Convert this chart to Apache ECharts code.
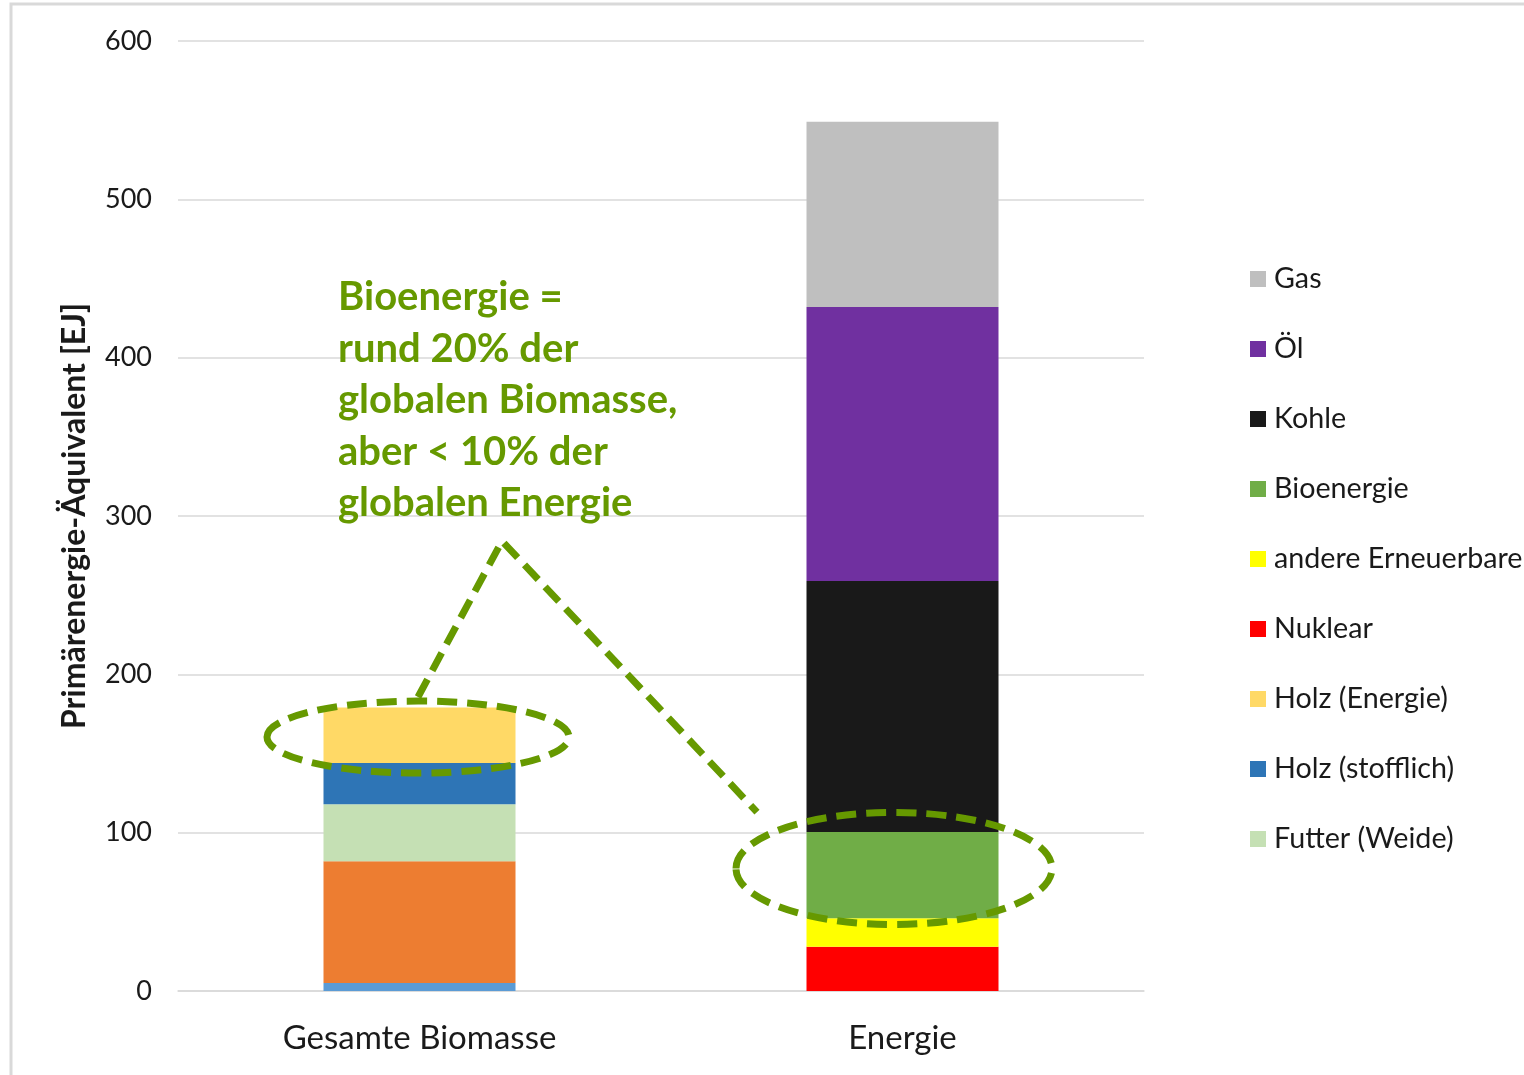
<!DOCTYPE html>
<html>
<head>
<meta charset="utf-8">
<script src="https://cdn.jsdelivr.net/npm/echarts@6/dist/echarts.min.js"></script>
<style>
html,body{margin:0;padding:0;background:#fff;}
#chart{width:1524px;height:1075px;}
</style>
</head>
<body>
<div id="chart"></div>
<script>
// ---- data ----
const categories = ['Gesamte Biomasse', 'Energie'];
const yTicks = [0, 100, 200, 300, 400, 500, 600];

// Biomass stack (bottom -> top)
const sonstige       = [5, null];
const ackerbau       = [77, null];
const futterWeide    = [36, null];
const holzStofflich  = [26, null];
const holzEnergie    = [35, null];
// Energy stack (bottom -> top)
const nuklear        = [null, 28];
const andereEE       = [null, 18];
const bioenergie     = [null, 54.5];
const kohle          = [null, 158.5];
const oel            = [null, 173];
const gas            = [null, 117];

const legendOrder = ['Gas', 'Öl', 'Kohle', 'Bioenergie', 'andere Erneuerbare', 'Nuklear', 'Holz (Energie)', 'Holz (stofflich)', 'Futter (Weide)'];
const annotationLines = ['Bioenergie =', 'rund 20% der', 'globalen Biomasse,', 'aber < 10% der', 'globalen Energie'];

const FONT = 'Lato, "Open Sans", sans-serif';
const GREEN = '#669900';

const chart = echarts.init(document.getElementById('chart'), null, {renderer: 'canvas'});

function s(name, data, color) {
  return {
    name: name, type: 'bar', stack: 'total', data: data.map(v => v == null ? '-' : v),
    barWidth: 192, itemStyle: {color: color}, emphasis: {disabled: true}
  };
}

const series = [
  s('Sonstige', sonstige, '#5b9bd5'),
  s('Ackerbau', ackerbau, '#ed7d31'),
  s('Futter (Weide)', futterWeide, '#c5e0b4'),
  s('Holz (stofflich)', holzStofflich, '#2e75b6'),
  s('Holz (Energie)', holzEnergie, '#ffd966'),
  s('Nuklear', nuklear, '#ff0000'),
  s('andere Erneuerbare', andereEE, '#ffff00'),
  s('Bioenergie', bioenergie, '#70ad47'),
  s('Kohle', kohle, '#191919'),
  s('Öl', oel, '#7030a0'),
  s('Gas', gas, '#bfbfbf')
];

chart.setOption({
  animation: false,
  backgroundColor: '#ffffff',
  textStyle: {fontFamily: FONT},
  grid: {left: 178, right: 380, top: 41, bottom: 84, containLabel: false},
  legend: {
    orient: 'vertical', left: 1250, top: 264, padding: 0,
    data: legendOrder, icon: 'rect', itemWidth: 16, itemHeight: 16, itemGap: 40,
    textStyle: {fontFamily: FONT, fontSize: 28.7, color: '#1a1a1a', lineHeight: 30, padding: [0, 0, 0, 3]},
    selectedMode: false
  },
  xAxis: {
    type: 'category', data: categories,
    axisLine: {lineStyle: {color: '#d9d9d9', width: 1.5}},
    axisTick: {show: false},
    axisLabel: {fontFamily: FONT, fontSize: 33, color: '#1a1a1a', margin: 31}
  },
  yAxis: {
    type: 'value', min: yTicks[0], max: yTicks[yTicks.length - 1], interval: 100,
    name: 'Primärenergie-Äquivalent [EJ]', nameLocation: 'middle', nameGap: 87,
    nameTextStyle: {fontFamily: FONT, fontSize: 32, fontWeight: 'bold', color: '#1a1a1a'},
    axisLine: {show: false}, axisTick: {show: false},
    axisLabel: {fontFamily: FONT, fontSize: 27, color: '#1a1a1a', margin: 26},
    splitLine: {lineStyle: {color: '#d9d9d9', width: 1.5}}
  },
  series: series
});

// ---- annotation (anchored through the axes) ----
function px(cat, val) { return chart.convertToPixel({gridIndex: 0}, [cat, val]); }
const e1 = px(0, 160.4);
const e2 = px(1, 77.4);
const apex = px(0, 284.2);
const foot = px(0, 185.7);
const endR = px(1, 113);
const txt = px(0, 438);
const dash = {stroke: GREEN, lineWidth: 7, lineDash: [20, 10], fill: null};
const LH = 51.5;

const graphic = [
  {type: 'rect', shape: {x: 11, y: 4, width: 1700, height: 1300}, style: {stroke: '#d9d9d9', lineWidth: 3, fill: null}, silent: true, z: 0},
  {type: 'ellipse', shape: {cx: e1[0] - 1.5, cy: e1[1], rx: 151, ry: 36}, style: dash, z: 100},
  {type: 'ellipse', shape: {cx: e2[0] - 8.5, cy: e2[1], rx: 158, ry: 56}, style: dash, z: 100},
  {type: 'polyline', shape: {points: [[foot[0] - 1.5, foot[1]], [apex[0] + 82.5, apex[1]], [endR[0] - 145.5, endR[1]]]}, style: {stroke: GREEN, lineWidth: 7, lineDash: [20, 10], fill: null}, z: 100},
  {type: 'text', x: txt[0] - 81.5, y: txt[1] - LH / 2, style: {text: annotationLines.join('\n'), font: 'bold 40px ' + FONT, fill: GREEN, lineHeight: LH, verticalAlign: 'top', align: 'left'}, z: 100}
];
chart.setOption({graphic: graphic});
</script>
</body>
</html>
